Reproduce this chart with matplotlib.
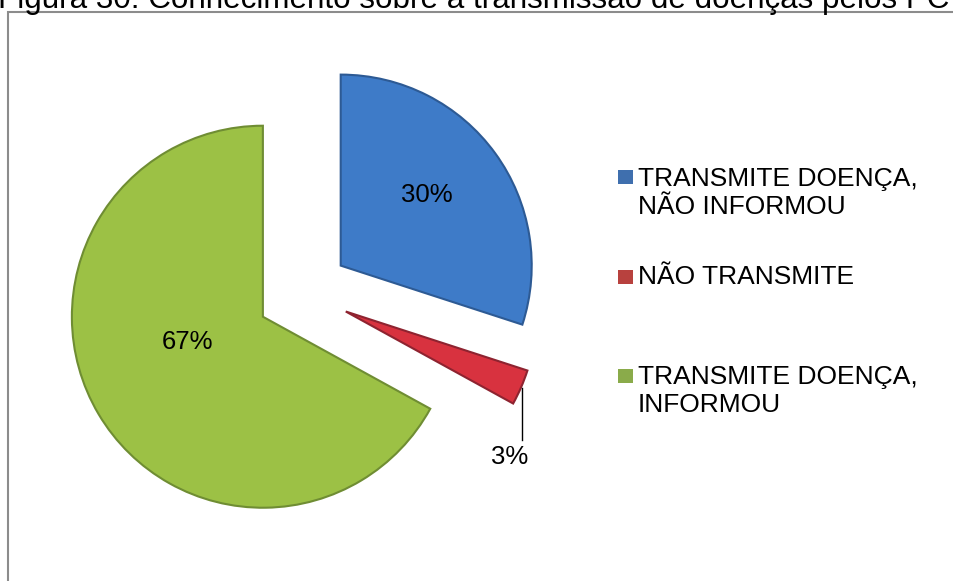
import matplotlib
matplotlib.use("Agg")
import matplotlib.pyplot as plt
from matplotlib.patches import Rectangle

plt.rcParams["font.family"] = ["Liberation Sans", "DejaVu Sans"]

# data
categories = ["TRANSMITE DOENÇA,\nNÃO INFORMOU", "NÃO TRANSMITE", "TRANSMITE DOENÇA,\nINFORMOU"]
values = [30, 3, 67]
title = "Figura 30: Conhecimento sobre a transmissão de doenças pelos PC"

# styles
slice_colors = ["#3e7bc8", "#d8323f", "#9cc145"]
edge_colors = ["#2d5a94", "#8e2330", "#6f8d33"]
legend_colors = ["#3f6fae", "#b8413e", "#8aab4a"]

W, H = 954, 581
fig = plt.figure(figsize=(W / 100, H / 100), dpi=100)
ax = fig.add_axes([0, 0, 1, 1])

radius = 191
center = (303, H - 293)
explode = [0.244 * radius] * len(values)

wedges, texts, autotexts = ax.pie(
    values,
    colors=slice_colors,
    startangle=90,
    counterclock=False,
    explode=explode,
    radius=radius,
    center=center,
    autopct="%1.0f%%",
    textprops={"fontsize": 18.5, "color": "black"},
    wedgeprops={"linewidth": 1.5},
)
for w, ec in zip(wedges, edge_colors):
    w.set_edgecolor(ec)

# label positions (pixel coords, y from top)
label_pos = [(427, 195), (510, 457), (188, 342)]
for t, (px, py) in zip(autotexts, label_pos):
    t.set_position((px, H - py))
    t.set_ha("center")
    t.set_va("center")

# leader line for the small slice
ax.plot([522, 522], [H - 388, H - 440], color="black", lw=1)

# legend drawn by hand
legend_y = [193, 277, 391]
square_y = [177, 277, 376]
for lab, c, ly, sy in zip(categories, legend_colors, legend_y, square_y):
    ax.add_patch(Rectangle((618, H - sy - 7), 15, 14, facecolor=c, edgecolor="none"))
    ax.text(638, H - ly, lab, fontsize=19, ha="left", va="center", linespacing=1.2)

# chart frame (runs off the right and bottom)
ax.add_patch(Rectangle((8, -100), 1200, H - 12 + 100, facecolor="none",
                       edgecolor="#8c8c8c", lw=1.5))

# title, cut off at the top as in the source page
ax.text(-2, H - 8, title, fontsize=22.6, ha="left", va="baseline", color="black")

ax.set_aspect("equal")
ax.set_xlim(0, W)
ax.set_ylim(0, H)
ax.axis("off")

fig.savefig("out.png", dpi=100)
